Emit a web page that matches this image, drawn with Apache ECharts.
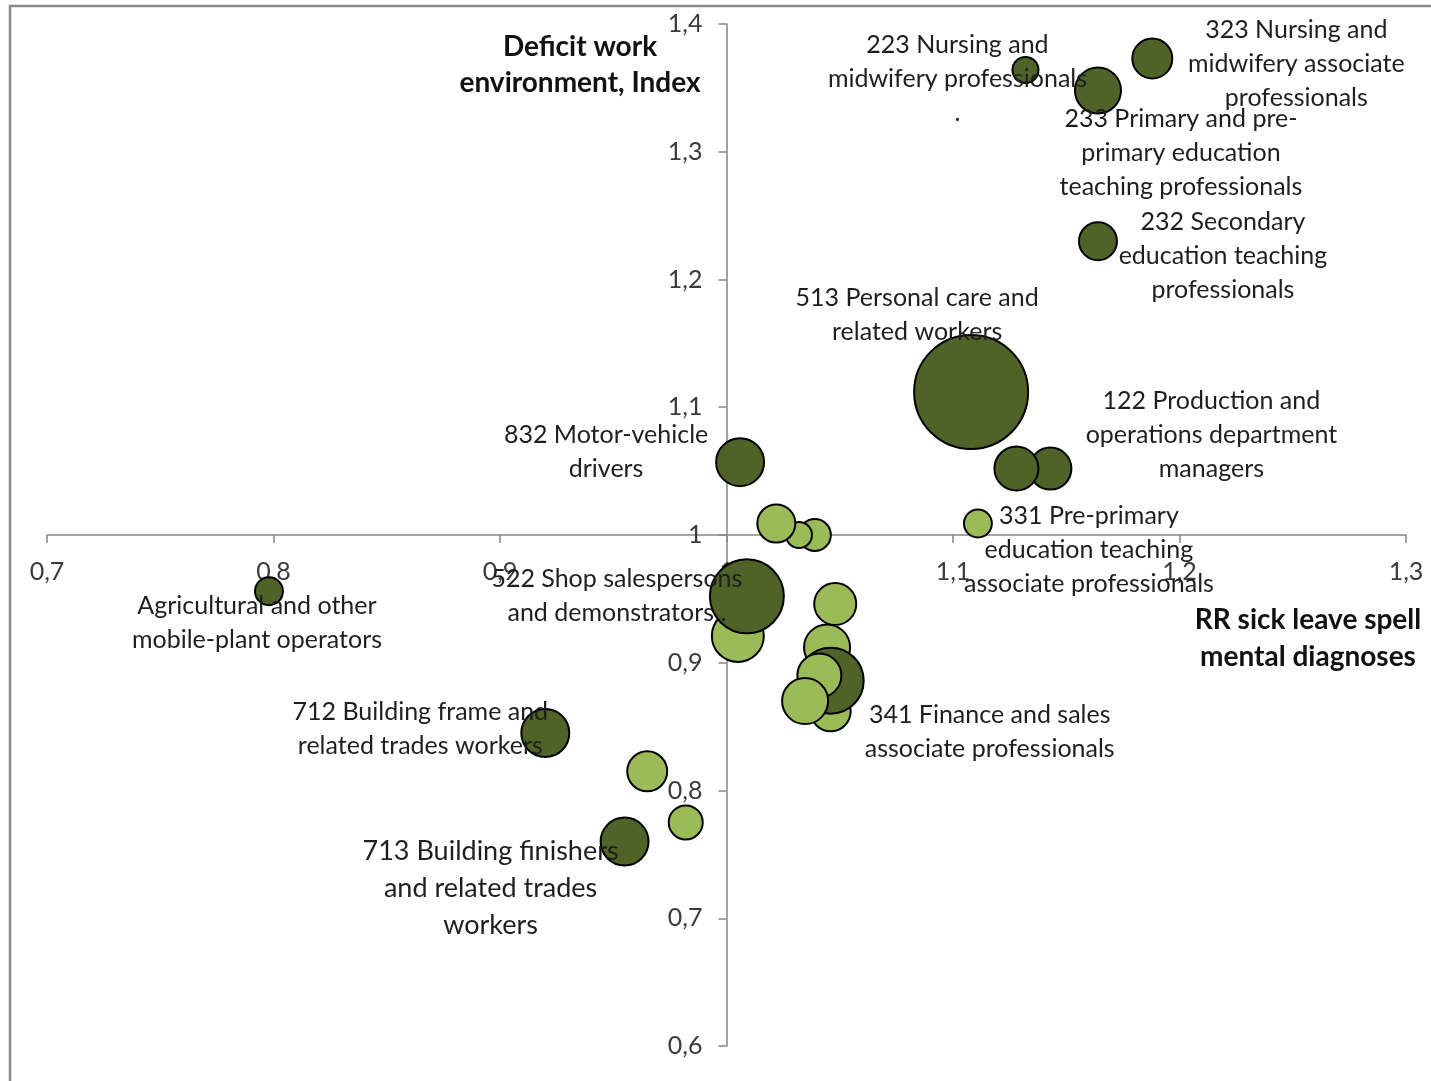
<!DOCTYPE html>
<html>
<head>
<meta charset="utf-8">
<script src="https://cdn.jsdelivr.net/npm/echarts@6/dist/echarts.min.js"></script>
<style>
html,body{margin:0;padding:0;background:#fff;}
#chart{width:1431px;height:1081px;}
</style>
</head>
<body>
<div id="chart"></div>
<script>
// ---- Data (drawing order) ----
const pointLabels = [
  'Agricultural and other\nmobile-plant operators',
  '712 Building frame and\nrelated trades workers',
  '713 Building finishers\nand related trades\nworkers',
  '', '', '',
  '522 Shop salespersons\nand demonstrators .',
  '832 Motor-vehicle\ndrivers',
  '', '', '', '', '', '',
  '341 Finance and sales\nassociate professionals',
  '', '',
  '331 Pre-primary\neducation teaching\nassociate professionals',
  '513 Personal care and\nrelated workers',
  '122 Production and\noperations department\nmanagers',
  '',
  '232 Secondary\neducation teaching\nprofessionals',
  '223 Nursing and\nmidwifery professionals\n.',
  '233 Primary and pre-\nprimary education\nteaching professionals',
  '323 Nursing and\nmidwifery associate\nprofessionals'
];
const rrSickLeave = [0.798, 0.920, 0.955, 0.965, 0.982, 1.005, 1.009, 1.006, 1.039, 1.032, 1.022, 1.048, 1.046, 1.0444, 1.046, 1.041, 1.0347, 1.111, 1.108, 1.143, 1.128, 1.164, 1.132, 1.164, 1.188];
const deficitIndex = [0.956, 0.845, 0.760, 0.815, 0.775, 0.921, 0.952, 1.057, 1.000, 1.000, 1.009, 0.946, 0.862, 0.912, 0.886, 0.890, 0.870, 1.009, 1.112, 1.052, 1.052, 1.230, 1.364, 1.348, 1.373];
const bubbleSize = [6.0, 17.7, 17.7, 12.3, 8.9, 20.8, 42.1, 17.7, 7.9, 5.2, 11.1, 13.6, 12.3, 16.3, 33.5, 14.9, 16.3, 6.0, 100, 13.6, 14.9, 11.1, 5.2, 16.3, 12.3];
const group = ['dark','dark','dark','light','light','light','dark','dark','light','light','light','light','light','light','dark','light','light','light','dark','dark','dark','dark','dark','dark','dark'];
const xTickLabels = ['0,7','0,8','0,9','1','1,1','1,2','1,3'];
const yTickLabels = ['0,6','0,7','0,8','0,9','1','1,1','1,2','1,3','1,4'];

// ---- Styling / layout ----
const colors = { dark: '#4F6228', light: '#9BBB59' };
const labelOffsets = {
  0: [-12, 32], 1: [-125, -4], 2: [-134, 47], 6: [-130, 0], 7: [-134, -10],
  14: [159, 51], 17: [111, 26], 18: [-54, -77], 19: [161, -34], 21: [125, 15],
  22: [-68, 9], 23: [83, 63], 24: [144, 5]
};
const W = 1431, H = 1081;
const G = { left: 47, right: 25, top: 24, bottom: 35 };
const plotW = W - G.left - G.right, plotH = H - G.top - G.bottom;
const FONT = 'Lato';

const chart = echarts.init(document.getElementById('chart'), null, { renderer: 'canvas' });

const seriesData = rrSickLeave.map((x, i) => ({
  value: [x, deficitIndex[i], bubbleSize[i]],
  itemStyle: { color: colors[group[i]] },
  label: pointLabels[i] ? {
    show: true,
    formatter: pointLabels[i],
    position: 'inside',
    align: 'center',
    verticalAlign: 'middle',
    fontFamily: FONT,
    fontSize: i === 2 ? 27 : 25,
    lineHeight: i === 2 ? 37 : 34,
    color: '#1e1e1e'
  } : { show: false }
}));

function fmtTick(list, min) {
  return function (v) {
    const idx = Math.round((v - min) * 10);
    return list[idx] !== undefined ? list[idx] : '';
  };
}

const axisLineStyle = { color: '#868686', width: 1.5 };

chart.setOption({
  animation: false,
  backgroundColor: '#ffffff',
  grid: { left: G.left, right: G.right, top: G.top, bottom: G.bottom, outerBoundsMode: 'none' },
  xAxis: {
    type: 'value', min: 0.7, max: 1.3, interval: 0.1,
    position: 'bottom', offset: -plotH / 2,
    axisLine: { show: true, onZero: false, lineStyle: axisLineStyle },
    axisTick: { show: true, length: 8, lineStyle: axisLineStyle },
    axisLabel: { formatter: fmtTick(xTickLabels, 0.7), margin: 24, fontFamily: FONT, fontSize: 25, color: '#3a3a3a' },
    splitLine: { show: false }
  },
  yAxis: {
    type: 'value', min: 0.6, max: 1.4, interval: 0.1,
    position: 'left', offset: -plotW / 2,
    axisLine: { show: true, onZero: false, lineStyle: axisLineStyle },
    axisTick: { show: true, length: 8, lineStyle: axisLineStyle },
    axisLabel: { formatter: fmtTick(yTickLabels, 0.6), margin: 24, fontFamily: FONT, fontSize: 25, color: '#3a3a3a' },
    splitLine: { show: false }
  },
  series: [{
    type: 'scatter',
    symbol: 'circle',
    symbolSize: v => 11.4 * Math.sqrt(v[2]),
    itemStyle: { borderColor: '#000', borderWidth: 2, opacity: 1 },
    emphasis: { disabled: true },
    labelLayout: function (params) {
      const o = labelOffsets[params.dataIndex] || [0, 0];
      return { dx: o[0], dy: o[1], hideOverlap: false };
    },
    data: seriesData
  }],
  graphic: [
    { type: 'polyline', shape: { points: [[10, H + 5], [10, 6], [W + 5, 6]] }, style: { stroke: '#8a8a8a', lineWidth: 2.5, fill: null }, silent: true },
    { type: 'text', x: 580, y: 65, style: { text: 'Deficit work\nenvironment, Index', fill: '#111', font: 'bold 28px ' + FONT, align: 'center', verticalAlign: 'middle', lineHeight: 36 } },
    { type: 'text', x: 1308, y: 638, style: { text: 'RR sick leave spell\nmental diagnoses', fill: '#111', font: 'bold 28px ' + FONT, align: 'center', verticalAlign: 'middle', lineHeight: 37 } }
  ]
});
</script>
</body>
</html>
